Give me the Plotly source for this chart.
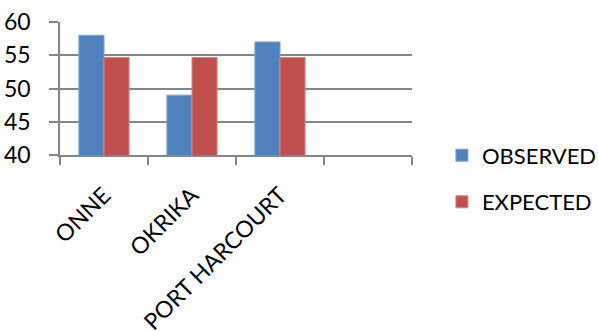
import plotly.graph_objects as go

# Sites and counts
sites = ["ONNE", "OKRIKA", "PORT HARCOURT"]
observed = [58, 49, 57]
expected = [54.67, 54.67, 54.67]
# an empty fourth slot keeps the category axis one step wider
axis_categories = sites + [" "]

blue = "#4F81BD"
red = "#C0504D"
grid = "#868686"
font_family = "Lato, 'Open Sans', sans-serif"

fig = go.Figure()
fig.add_trace(go.Bar(
    x=sites, y=observed, name="OBSERVED",
    marker=dict(color=blue, line=dict(color="#7AA0D0", width=1)),
    legendgroup="a",
))
fig.add_trace(go.Bar(
    x=sites, y=expected, name="EXPECTED",
    marker=dict(color=red, line=dict(color="#D88583", width=1)),
    legendgroup="b",
))

fig.update_layout(
    width=598, height=331,
    margin=dict(l=60, r=186, t=22, b=175.5, autoexpand=False),
    paper_bgcolor="white", plot_bgcolor="white",
    font=dict(family=font_family, size=22, color="black"),
    barmode="group", bargap=0.43, bargroupgap=0,
    showlegend=True,
    legend=dict(
        x=1.085, y=0.155, xanchor="left", yanchor="top",
        traceorder="grouped", tracegroupgap=15,
        font=dict(family=font_family, size=22, color="black"),
        bgcolor="rgba(0,0,0,0)", borderwidth=0,
    ),
    xaxis=dict(
        type="category", categoryorder="array", categoryarray=axis_categories,
        range=[-0.5, 3.5], tickson="boundaries",
        ticks="outside", ticklen=8, tickcolor=grid, tickwidth=1.5,
        showline=True, linecolor=grid, linewidth=1.5,
        showgrid=False, tickangle=-45, ticklabelstandoff=16,
        tickfont=dict(family=font_family, size=23, color="black"),
    ),
    yaxis=dict(
        range=[40, 60], dtick=5, tick0=40,
        showgrid=True, gridcolor=grid, gridwidth=1.5,
        showline=True, linecolor=grid, linewidth=1.5,
        ticks="outside", ticklen=9, tickcolor=grid, tickwidth=1.5,
        ticklabelstandoff=14,
        tickfont=dict(family=font_family, size=23, color="black"),
        zeroline=False,
    ),
)

fig.write_html("out.html")
